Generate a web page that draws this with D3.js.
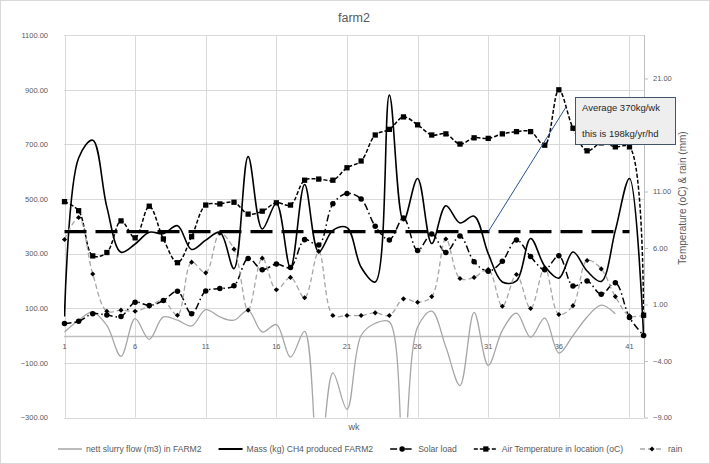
<!DOCTYPE html>
<html>
<head>
<meta charset="utf-8">
<script src="https://cdn.jsdelivr.net/npm/d3@7"></script>
<style>
  body { margin: 0; background: #fff; }
  text { font-family: "Liberation Sans", Arial, sans-serif; fill: #595959; }
</style>
</head>
<body>
<div id="chart"></div>
<script>
// farm2 weekly chart, drawn with d3 //

// categories (weeks)
var weeks = d3.range(1, 43);
var weekTicks = [1, 6, 11, 16, 21, 26, 31, 36, 41];

// left axis series
var slurryFlow = [13, 56, 86, 37, -76, 62, -14, 68, 56, 35, 95, 68, 56, 92, 13, 40, -79, 15, -500, -137,
                  -270, 0, 45, 50, -430, 31, 89, -42, -183, 85, -109, 19, 82, -6, 64, -64, 0, 68, 111, 80];
var ch4Mass = [70, 650, 715, 470, 305, 335, 378, 373, 402, 315, 349, 378, 245, 655, 390, 483, 248, 553, 306, 385,
               395, 250, 196, 880, 420, 575, 337, 475, 412, 437, 300, 196, 200, 355, 254, 210, 306, 236, 198, 385,
               575, 0];
var solarLoad = [44, 52, 80, 75, 70, 122, 110, 128, 162, 80, 163, 172, 182, 282, 241, 262, 249, 351, 331, 482,
                 520, 500, 400, 350, 430, 311, 372, 304, 364, 270, 235, 272, 350, 289, 241, 292, 181, 200, 151, 193,
                 66, 0];
var averageCH4 = d3.range(41).map(function(){ return 380; });

// right axis series
var airTemp = [10.1, 9.3, 5.3, 5.6, 8.4, 6.9, 9.7, 6.8, 4.7, 7.0, 9.8, 9.9, 10.05, 9.0, 9.26, 10.0, 9.8, 12.0, 12.1, 12.0,
               13.1, 13.7, 16.0, 16.5, 17.6, 16.9, 16.0, 16.1, 15.2, 15.75, 15.7, 16.1, 16.3, 16.3, 15.1, 20.0, 16.6, 14.6, 15.3, 14.95,
               14.95, 0.05];
var rain = [6.75, 8.7, 3.7, 0.4, 0.5, 0.4, 0.85, 1.35, 0.05, 4.75, 3.8, 7.3, 5.9, 0.5, 5.1, 2.3, 3.4, 1.6, 5.7, 0.03,
            0.03, 0.03, 0.26, 0.03, 1.5, 1.2, 1.7, 6.8, 3.3, 3.4, 4.1, 0.85, 3.65, 0.65, 4.25, 0.12, 0.9, 4.9, 4.15, 1.7,
            0.0, 0.05];

// axis ticks
var leftTicks = [-300, -100, 100, 300, 500, 700, 900, 1100];
var rightTicks = [-9, -4, 1, 6, 11, 16, 21];

var legendNames = ["nett slurry flow (m3) in FARM2", "Mass (kg) CH4 produced FARM2", "Solar load",
                   "Air Temperature in location (oC)", "rain"];

    var width = 710;
    var height = 464;
    var plotL = 64, plotR = 644, plotT = 35, plotB = 417.5;

    var x = d3.scalePoint().domain(weeks).range([plotL + 0.5, plotR - 0.4]);
    var yL = d3.scaleLinear().domain([-300, 1100]).range([plotB, plotT]);
    var yR = d3.scaleLinear().domain([-9, 24.85]).range([plotB, plotT]);

    var svg = d3.select("#chart")
            .append("svg")
            .attr("width", width)
            .attr("height", height);

    // chart border
    svg.append("rect")
        .attr("x", 0.5).attr("y", 0.5)
        .attr("width", width - 1).attr("height", height - 1)
        .style("fill", "#fff").style("stroke", "#d9d9d9");

    svg.append("text")
        .attr("x", 354).attr("y", 22)
        .attr("text-anchor", "middle")
        .style("font-size", "12.5px")
        .text("farm2");

    // gridlines
    svg.append("g").selectAll("line")
        .data(leftTicks)
        .enter().append("line")
        .attr("x1", plotL).attr("x2", plotR)
        .attr("y1", function(d){ return Math.round(yL(d)) + 0.5; })
        .attr("y2", function(d){ return Math.round(yL(d)) + 0.5; })
        .style("stroke", "#d9d9d9");

    svg.append("g").selectAll("line")
        .data(weekTicks)
        .enter().append("line")
        .attr("x1", function(d){ return Math.round(x(d)) + 0.5; })
        .attr("x2", function(d){ return Math.round(x(d)) + 0.5; })
        .attr("y1", plotT).attr("y2", plotB)
        .style("stroke", "#d9d9d9");

    // zero line (category axis)
    svg.append("line")
        .attr("x1", plotL).attr("x2", plotR)
        .attr("y1", Math.round(yL(0)) + 0.5).attr("y2", Math.round(yL(0)) + 0.5)
        .style("stroke", "#bfbfbf").style("stroke-width", 1.3);

    // left axis
    var axL = svg.append("g")
        .attr("transform", "translate(" + plotL + ",0)")
        .call(d3.axisLeft(yL).tickValues(leftTicks).tickFormat(d3.format(".2f")).tickSize(0).tickPadding(16));
    axL.select(".domain").remove();
    axL.selectAll("text").attr("fill", "#595959").style("font-size", "7.5px")
        .style("font-family", "'Liberation Sans', Arial, sans-serif");

    // right axis (16.00 sits under the callout box)
    var axR = svg.append("g")
        .attr("transform", "translate(" + plotR + ",0)")
        .call(d3.axisRight(yR).tickValues(rightTicks)
            .tickFormat(function(d){ return d === 16 ? "" : d3.format(".2f")(d); })
            .tickSize(4).tickPadding(5));
    axR.select(".domain").attr("d", "M0.5," + plotT + "V" + plotB).style("stroke", "#bfbfbf");
    axR.selectAll(".tick line").style("stroke", "#bfbfbf");
    axR.selectAll("text").attr("fill", "#595959").style("font-size", "7.5px")
        .style("font-family", "'Liberation Sans', Arial, sans-serif");

    svg.append("text")
        .attr("transform", "translate(686,198) rotate(-90)")
        .attr("text-anchor", "middle")
        .style("font-size", "10px")
        .text("Temperature (oC) & rain (mm)");

    // week labels
    svg.append("g").selectAll("text")
        .data(weekTicks)
        .enter().append("text")
        .attr("x", function(d){ return x(d); })
        .attr("y", yL(0) + 13)
        .attr("text-anchor", "middle")
        .style("font-size", "7.5px")
        .text(function(d){ return d; });

    svg.append("text")
        .attr("x", 354).attr("y", 430)
        .attr("text-anchor", "middle")
        .style("font-size", "9px")
        .text("wk");

    // clip for the plot area
    svg.append("clipPath").attr("id", "plotclip")
        .append("rect").attr("x", plotL).attr("y", plotT).attr("width", plotR - plotL).attr("height", plotB - plotT);

    var plot = svg.append("g").attr("clip-path", "url(#plotclip)");

    function lineFor(scale){
        return d3.line()
            .x(function(d, i){ return x(weeks[i]); })
            .y(function(d){ return scale(d); })
            .curve(d3.curveCatmullRom.alpha(0.5));
    }

    function drawSeries(values, scale, stroke, widthPx, dash){
        plot.append("path")
            .datum(values)
            .attr("d", lineFor(scale))
            .style("fill", "none")
            .style("stroke", stroke)
            .style("stroke-width", widthPx)
            .style("stroke-dasharray", dash || null);
    }

    // marker kinds: circle, square, diamond (square turned 45 degrees)
    function markerPath(kind){
        if (kind === "circle") return d3.symbol().type(d3.symbolCircle).size(24)();
        if (kind === "square") return d3.symbol().type(d3.symbolSquare).size(28)();
        return d3.symbol().type(d3.symbolSquare).size(13)();
    }

    function drawMarkers(values, scale, kind){
        svg.append("g").selectAll("path")
            .data(values)
            .enter().append("path")
            .attr("transform", function(d, i){
                return "translate(" + x(weeks[i]) + "," + scale(d) + ")" + (kind === "diamond" ? " rotate(45)" : "");
            })
            .attr("d", markerPath(kind))
            .style("fill", "#000");
    }

    drawSeries(slurryFlow, yL, "#a6a6a6", 1.3);
    drawSeries(ch4Mass, yL, "#000", 1.6);
    drawSeries(solarLoad, yL, "#000", 1.5, "7,3,1.5,3");
    drawMarkers(solarLoad, yL, "circle");
    drawSeries(airTemp, yR, "#000", 1.5, "4,2");
    drawMarkers(airTemp, yR, "square");
    drawSeries(rain, yR, "#a6a6a6", 1.3, "5,3");
    drawMarkers(rain, yR, "diamond");

    // average line
    plot.append("path")
        .datum(averageCH4)
        .attr("d", d3.line().x(function(d, i){ return x(weeks[i]); }).y(function(d){ return yL(d); }))
        .style("fill", "none")
        .style("stroke", "#000")
        .style("stroke-width", 3.2)
        .style("stroke-dasharray", "22,9");

    // callout
    svg.append("line")
        .attr("x1", x(31)).attr("y1", yL(380))
        .attr("x2", 566).attr("y2", 107)
        .style("stroke", "#2f4f8f").style("stroke-width", 1);

    svg.append("rect")
        .attr("x", 575.5).attr("y", 97.5)
        .attr("width", 100).attr("height", 47)
        .style("fill", "#eeeeee").style("stroke", "#44546a").style("stroke-width", 1);

    svg.append("text")
        .attr("x", 582).attr("y", 111)
        .style("font-size", "9.5px").style("fill", "#262626")
        .text("Average 370kg/wk");
    svg.append("text")
        .attr("x", 582).attr("y", 137)
        .style("font-size", "9.5px").style("fill", "#262626")
        .text("this is 198kg/yr/hd");

    // legend
    var legendStyles = [
        {stroke: "#a6a6a6", w: 1.5, dash: null, marker: null},
        {stroke: "#000", w: 2, dash: null, marker: null},
        {stroke: "#000", w: 1.5, dash: "7,3,1.5,3", marker: "circle"},
        {stroke: "#000", w: 1.5, dash: "4,2", marker: "square"},
        {stroke: "#a6a6a6", w: 1.3, dash: "5,3", marker: "diamond"}
    ];

    var legend = svg.append("g").attr("transform", "translate(58,449)");
    var lx = 0;
    legendNames.forEach(function(name, i){
        var item = legend.append("g").attr("transform", "translate(" + lx + ",0)");
        var st = legendStyles[i];
        item.append("line")
            .attr("x1", 0).attr("x2", 24).attr("y1", 0).attr("y2", 0)
            .style("stroke", st.stroke).style("stroke-width", st.w)
            .style("stroke-dasharray", st.dash);
        if (st.marker) {
            item.append("path")
                .attr("transform", "translate(12,0)" + (st.marker === "diamond" ? " rotate(45)" : ""))
                .attr("d", markerPath(st.marker))
                .style("fill", "#000");
        }
        var t = item.append("text")
            .attr("x", 28).attr("y", 3)
            .style("font-size", "8.6px")
            .text(name);
        lx += 28 + t.node().getComputedTextLength() + 17;
    });
</script>
</body>
</html>
